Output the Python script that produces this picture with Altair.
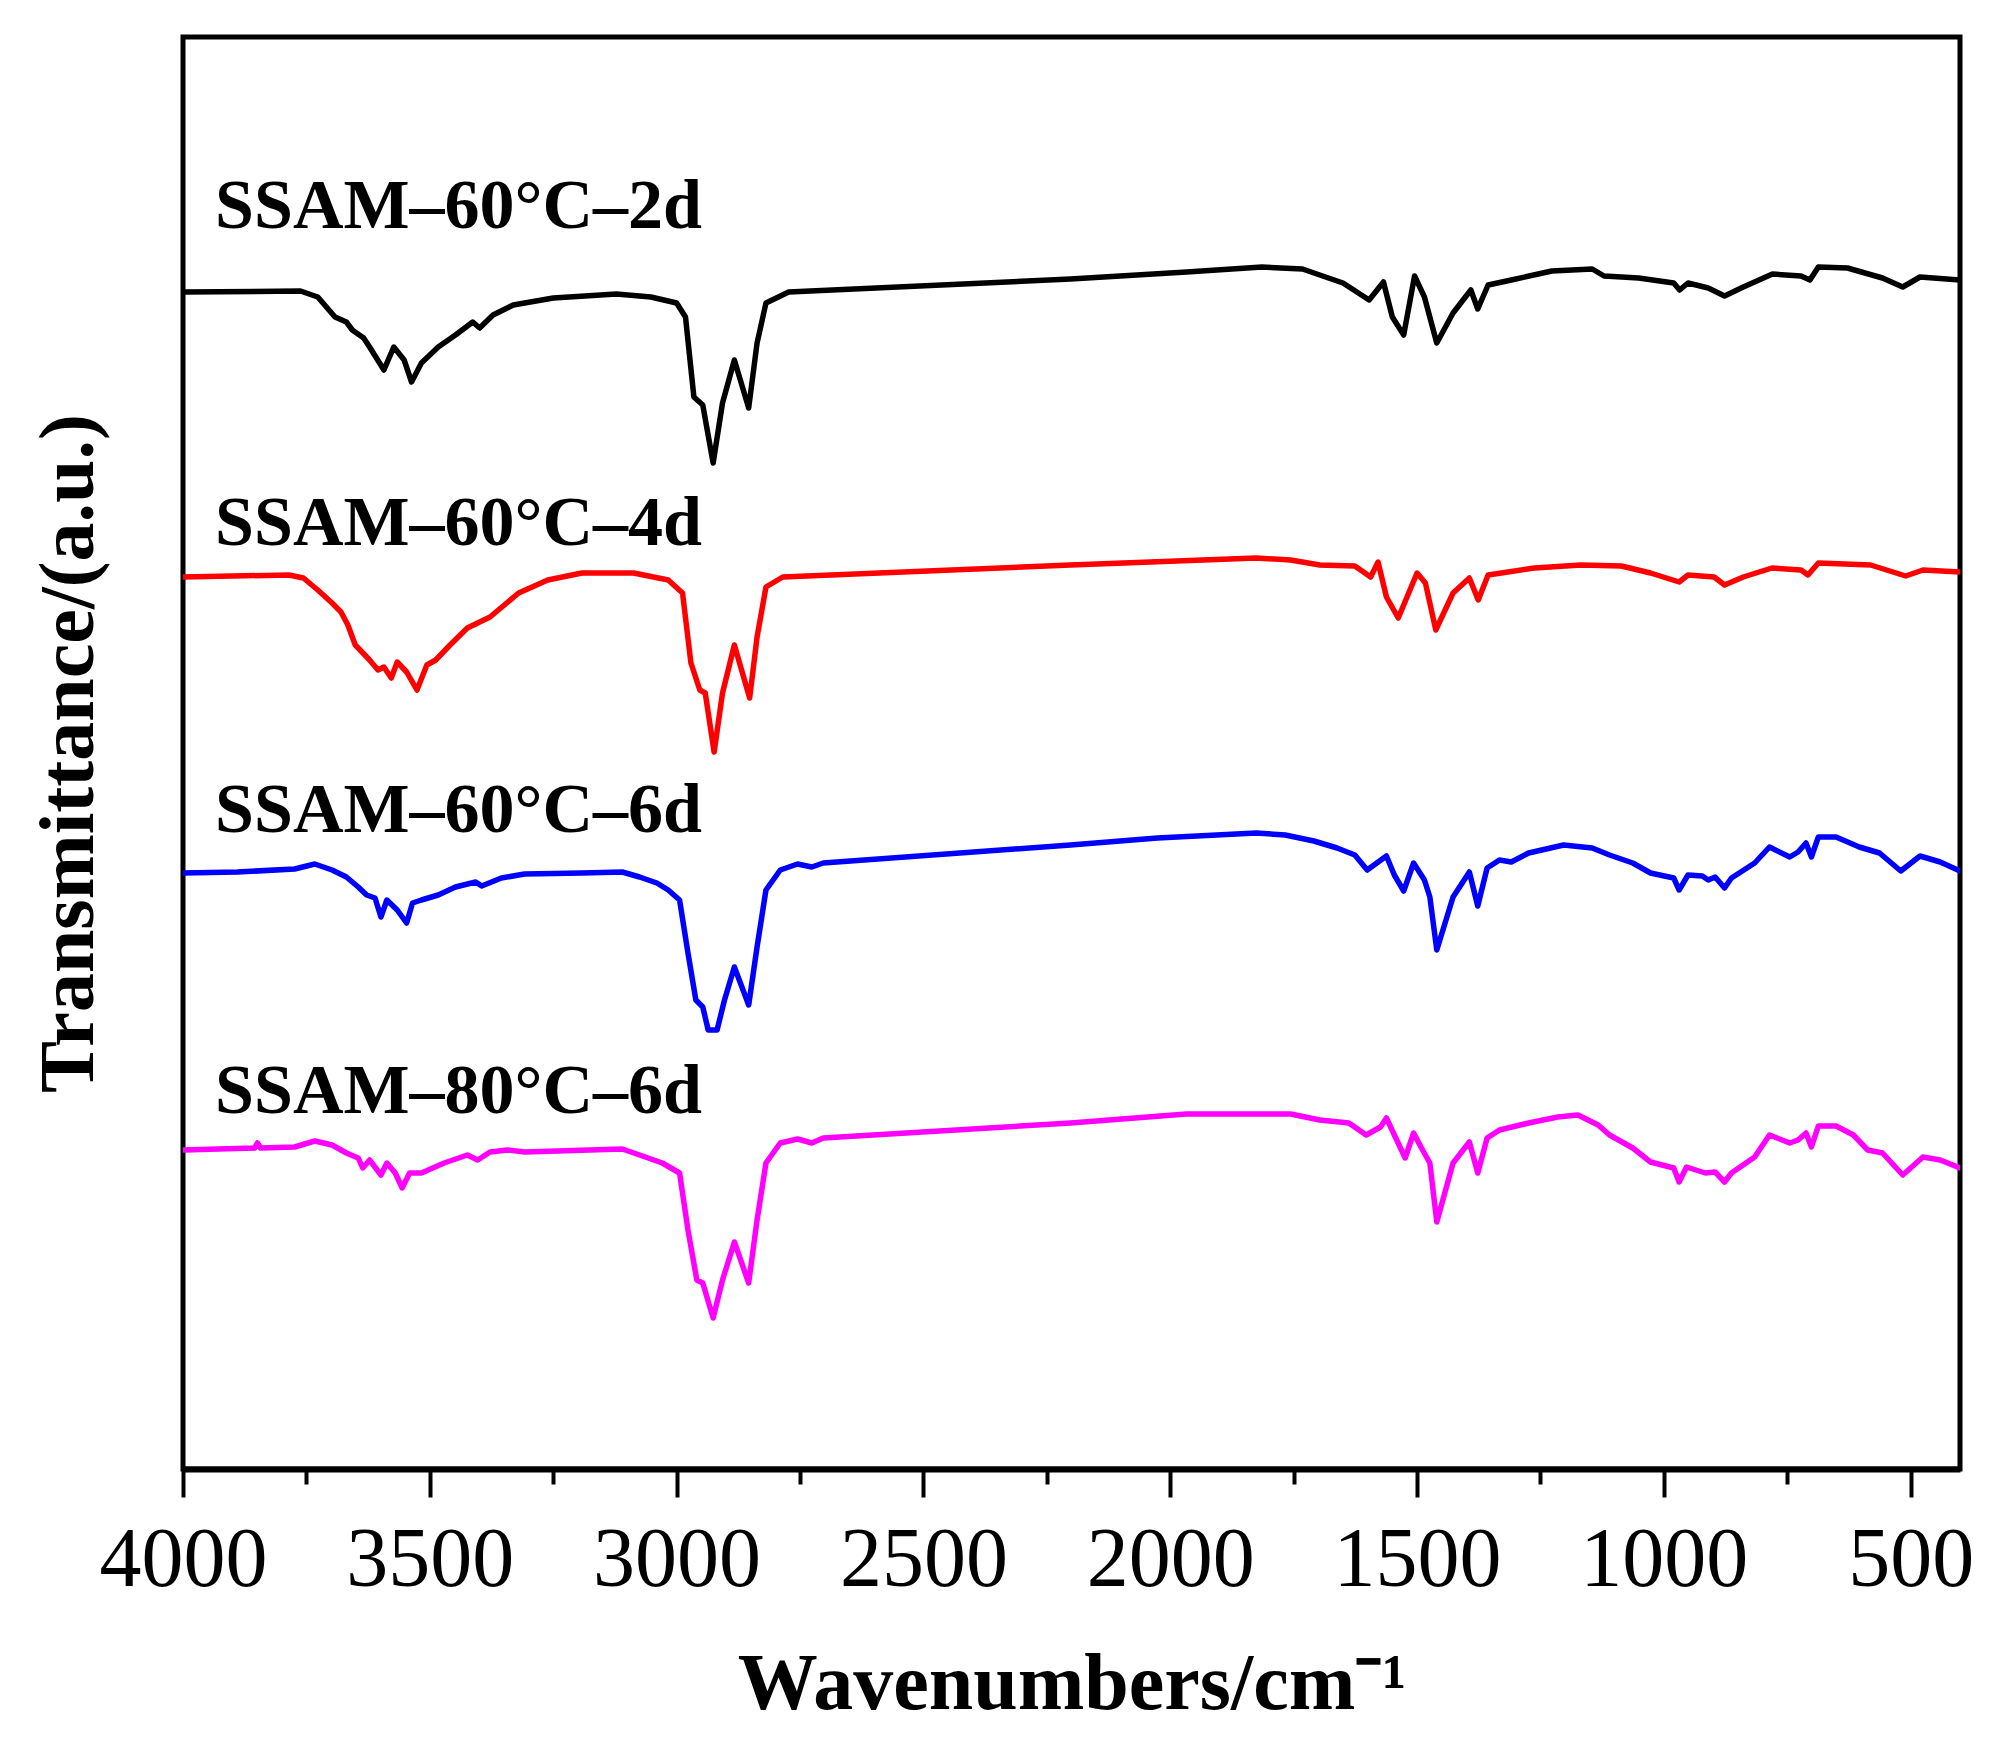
import altair as alt
import pandas as pd

# ---------------- data ----------------
series_names = ["SSAM–60°C–2d", "SSAM–60°C–4d", "SSAM–60°C–6d", "SSAM–80°C–6d"]
series_colors = ["#000000", "#ff0000", "#0000ff", "#ff00ff"]

wn_2d = [4000, 3762, 3727, 3692, 3669, 3657, 3634, 3622, 3593, 3573, 3552, 3537, 3517,
         3483, 3448, 3413, 3399, 3372, 3331, 3250, 3122, 3052, 3000, 2982, 2965, 2947,
         2926, 2907, 2883, 2854, 2837, 2819, 2773,
         2202, 1967, 1814, 1732, 1697, 1650, 1597, 1568, 1550, 1527, 1505, 1485, 1460,
         1427, 1391, 1377, 1356, 1309, 1227, 1145, 1121, 1051, 980, 968, 951, 910, 877,
         839, 780, 722, 704, 687, 628, 557, 516, 481, 400]
t_2d = [117.7, 117.8, 117.2, 115.2, 114.7, 113.9, 113.1, 112.2, 109.9, 112.2, 110.9, 108.7, 110.6,
        112.2, 113.4, 114.7, 114.1, 115.4, 116.4, 117.1, 117.5, 117.2, 116.6, 115.2, 107.2, 106.4,
        100.6, 106.6, 110.9, 106.1, 112.6, 116.6, 117.7,
        119.0, 119.7, 120.2, 120.0, 119.4, 118.6, 116.9, 118.7, 115.2, 113.4, 119.3, 117.2, 112.6,
        115.6, 117.9, 116.0, 118.4, 118.9, 119.8, 120.0, 119.3, 119.1, 118.6, 117.9, 118.6, 118.1, 117.3,
        118.2, 119.5, 119.3, 118.9, 120.2, 120.1, 119.1, 118.2, 119.2, 118.9]

wn_4d = [4000, 3785, 3756, 3727, 3698, 3680, 3666, 3651, 3622, 3605, 3593, 3578, 3566, 3547,
         3526, 3506, 3488, 3459, 3424, 3378, 3320, 3261, 3192, 3087, 3017, 2988, 2971, 2953,
         2942, 2924, 2907, 2883, 2852, 2837, 2819, 2785,
         2202, 1826, 1756, 1697, 1626, 1594, 1579, 1562, 1538, 1500, 1483, 1462, 1427, 1394,
         1376, 1356, 1262, 1168, 1086, 1027, 969, 951, 898, 877, 839, 781, 722, 708, 687, 581,
         510, 475, 400]
t_4d = [89.2, 89.4, 89.1, 87.9, 86.6, 85.7, 84.4, 82.4, 80.9, 79.9, 80.2, 79.1, 80.7, 79.7,
        77.9, 80.4, 80.9, 82.4, 84.1, 85.2, 87.6, 88.9, 89.6, 89.6, 88.9, 87.6, 80.6, 77.9,
        77.6, 71.7, 77.6, 82.4, 77.1, 83.2, 88.2, 89.2,
        90.4, 91.1, 90.9, 90.4, 90.3, 89.2, 90.7, 87.2, 85.1, 89.6, 88.6, 83.9, 87.6, 89.1,
        86.9, 89.4, 90.1, 90.4, 90.3, 89.6, 88.7, 89.4, 89.2, 88.4, 89.2, 90.1, 89.9, 89.4, 90.6, 90.4,
        89.3, 89.9, 89.7]

wn_6d = [4000, 3890, 3774, 3733, 3698, 3669, 3645, 3628, 3611, 3599, 3587, 3566, 3547, 3535,
         3517, 3483, 3448, 3407, 3395, 3355, 3308, 3192, 3110, 3075, 3040, 3017, 2994, 2977,
         2961, 2947, 2936, 2918, 2903, 2883, 2854, 2837, 2819, 2790, 2755, 2726, 2703,
         2202, 2026, 1826, 1767, 1709, 1662, 1626, 1601, 1562, 1546, 1527, 1507, 1485, 1474,
         1460, 1427, 1394, 1377, 1358, 1333, 1309, 1274, 1203, 1145, 1110, 1063, 1027, 980,
         969, 951, 922, 910, 896, 877, 863, 816, 786, 745, 728, 712, 701, 687, 651, 604, 563,
         520, 481, 440, 400]
t_6d = [59.6, 59.7, 60.0, 60.5, 59.9, 59.2, 58.2, 57.4, 57.1, 55.2, 56.9, 55.9, 54.6, 56.6,
        56.9, 57.4, 58.2, 58.7, 58.3, 59.1, 59.5, 59.6, 59.7, 59.2, 58.6, 57.9, 56.9, 51.6,
        46.9, 46.2, 43.9, 43.9, 46.9, 50.2, 46.4, 52.2, 57.9, 59.9, 60.5, 60.2, 60.6,
        62.4, 63.1, 63.6, 63.4, 62.8, 62.1, 61.4, 59.9, 61.3, 59.4, 57.8, 60.6, 58.9, 57.2,
        51.9, 57.2, 59.7, 56.3, 60.1, 60.9, 60.7, 61.6, 62.4, 62.1, 61.4, 60.6, 59.6, 59.1,
        57.9, 59.4, 59.3, 58.9, 59.2, 58.1, 59.1, 60.6, 62.2, 61.2, 61.7, 62.6, 61.2, 63.2, 63.2, 62.2, 61.6,
        59.8, 61.3, 60.7, 59.8]

wn_80 = [4000, 3855, 3849, 3843, 3774, 3733, 3698, 3669, 3645, 3636, 3622, 3599, 3587, 3570,
         3556, 3541, 3517, 3471, 3424, 3403, 3378, 3343, 3308, 3110, 3075, 3029, 2994, 2977,
         2959, 2947, 2926, 2907, 2883, 2854, 2837, 2819, 2790, 2755, 2726, 2703,
         2202, 1967, 1756, 1697, 1638, 1603, 1574, 1562, 1544, 1524, 1507, 1491, 1474, 1460,
         1427, 1394, 1377, 1358, 1333, 1274, 1215, 1174, 1133, 1110, 1063, 1027, 980, 969,
         954, 916, 896, 877, 863, 816, 786, 745, 728, 712, 701, 687, 651, 616, 587, 557, 516,
         475, 440, 400]
t_80 = [31.9, 32.1, 32.6, 32.1, 32.2, 32.8, 32.4, 31.6, 31.1, 30.1, 30.9, 29.4, 30.6, 29.6,
        28.1, 29.6, 29.6, 30.6, 31.4, 30.9, 31.7, 31.9, 31.7, 32.0, 31.4, 30.6, 29.6, 23.9,
        18.9, 18.6, 15.1, 18.9, 22.7, 18.6, 24.9, 30.6, 32.6, 33.0, 32.6, 33.1,
        34.6, 35.5, 35.5, 34.9, 34.6, 33.4, 34.2, 35.1, 33.2, 31.1, 33.6, 32.1, 30.6, 24.7,
        30.6, 32.7, 29.6, 33.1, 33.9, 34.6, 35.2, 35.4, 34.4, 33.4, 32.1, 30.7, 30.1, 28.7,
        30.2, 29.6, 29.7, 28.7, 29.6, 31.2, 33.4, 32.6, 32.9, 33.6, 32.2, 34.3, 34.3, 33.4, 31.9, 31.6, 29.4,
        31.2, 30.9, 30.1]

label_x = [3935, 3935, 3935, 3935]
label_y = [124.1, 92.4, 63.7, 35.6]

x_ticks = [4000, 3750, 3500, 3250, 3000, 2750, 2500, 2250, 2000, 1750, 1500, 1250, 1000, 750, 500]
x_domain = [400, 4000]
y_domain = [0, 143.2]

# ---------------- build tables ----------------
rows = []
for name, wns, ts in zip(series_names, [wn_2d, wn_4d, wn_6d, wn_80], [t_2d, t_4d, t_6d, t_80]):
    for i, (w, t) in enumerate(zip(wns, ts)):
        rows.append({"series": name, "wn": w, "t": t, "order": i})
df = pd.DataFrame(rows)
labels_df = pd.DataFrame({"series": series_names, "wn": label_x, "t": label_y})

SERIF = "Liberation Serif"

x_scale = alt.Scale(domain=x_domain, reverse=True, nice=False, zero=False)
y_scale = alt.Scale(domain=y_domain, nice=False, zero=False)

x_axis = alt.Axis(
    values=x_ticks,
    format="d",
    labelExpr="datum.value % 500 === 0 ? datum.label : ''",
    labelFont=SERIF, labelFontSize=84, labelColor="black",
    labelPadding=22, labelFlush=False, labelOverlap=False,
    tickSize={"condition": {"test": "datum.value % 500 === 0", "value": 28}, "value": 15},
    tickWidth=4, tickColor="black",
    domainColor="black", domainWidth=6,
    grid=False,
    title="Wavenumbers/cm⁻¹",
    titleFont=SERIF, titleFontSize=80, titleFontWeight="bold", titleColor="black",
    titleBaseline="alphabetic", titleY=239,
)
y_axis = alt.Axis(
    labels=False, ticks=False, domain=False, grid=False,
    title="Transmittance/(a.u.)",
    titleFont=SERIF, titleFontSize=78, titleFontWeight="bold", titleColor="black",
    titleAngle=-90, titleBaseline="alphabetic", titleX=-91,
)

lines = alt.Chart(df).mark_line(strokeWidth=5.5, strokeJoin="round", strokeCap="round", clip=True).encode(
    x=alt.X("wn:Q", scale=x_scale, axis=x_axis),
    y=alt.Y("t:Q", scale=y_scale, axis=y_axis),
    color=alt.Color("series:N", scale=alt.Scale(domain=series_names, range=series_colors), legend=None),
    order="order:Q",
    detail="series:N",
)

texts = alt.Chart(labels_df).mark_text(
    align="left", baseline="alphabetic", font=SERIF, fontSize=70, fontWeight="bold", color="black"
).encode(
    x=alt.X("wn:Q", scale=x_scale),
    y=alt.Y("t:Q", scale=y_scale),
    text="series:N",
)

chart = alt.layer(lines, texts).properties(
    width=1777, height=1432,
    autosize=alt.AutoSizeParams(type="none"),
    padding={"left": 175, "top": 29, "right": 36, "bottom": 272},
    background="white",
).configure_view(stroke="black", strokeWidth=5)

chart.save("out.html", embed_options={"renderer": "svg", "actions": False})
